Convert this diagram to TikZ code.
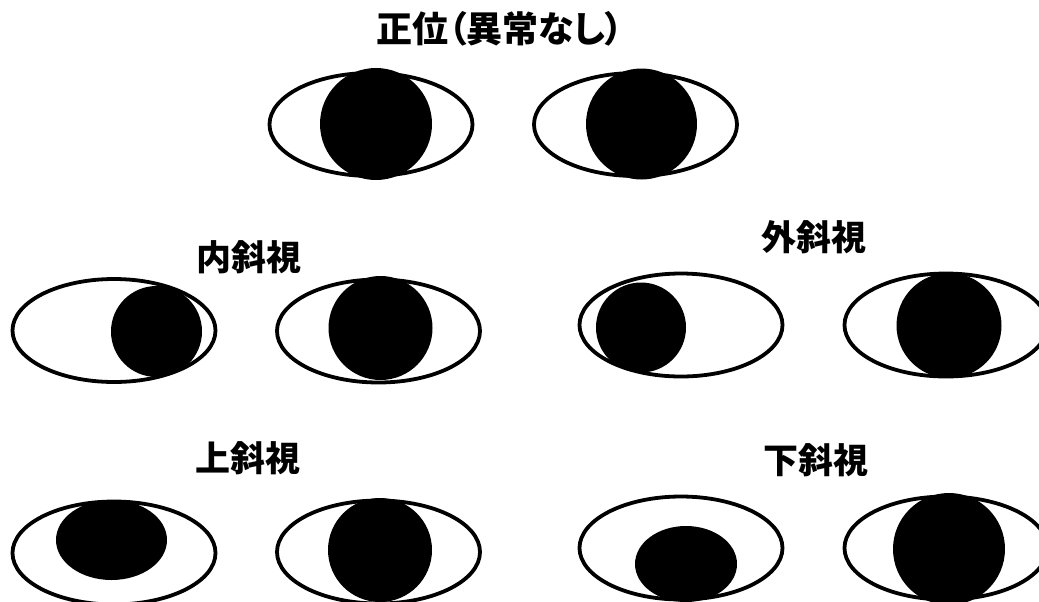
\documentclass[tikz,border=0pt]{standalone}
\usepackage{fontspec}
\newfontfamily\jpfont{Noto Sans CJK JP}[BoldFont={Noto Sans CJK JP Black}]
\newfontfamily\jppfont{Noto Sans CJK JP Black}[RawFeature=+palt]

\tikzset{
  eyeball/.style={draw=black, fill=white, line width=1.9pt},
  iris/.style={fill=black},
  heading/.style={font=\jpfont\bfseries\fontsize{17.5}{20}\selectfont, inner sep=0pt}
}

\begin{document}
\begin{tikzpicture}[x=0.5pt,y=-0.5pt]
  \useasboundingbox (0,0) rectangle (1039,601);

  % headings
  \node[heading, font=\jppfont\fontsize{18}{20}\selectfont] (normal) at (500,29) {正位（異常なし）};
  \node[heading] (eso)    at (249,257) {内斜視};
  \node[heading] (exo)    at (814,237) {外斜視};
  \node[heading] (hyper)  at (248,458) {上斜視};
  \node[heading] (hypo)   at (816,460) {下斜視};

  % normal position
  \draw[eyeball] (371,124.5) ellipse (101.5 and 51.5);
  \fill[iris] (376,124) circle (56);
  \draw[eyeball] (635.5,124.5) ellipse (101.5 and 51.5);
  \fill[iris] (641.5,124) circle (55.5);

  % esotropia
  \draw[eyeball] (114,330.5) ellipse (101.5 and 51.5);
  \fill[iris] (156.5,331.5) circle (45.5);
  \draw[eyeball] (378.5,331) ellipse (101.5 and 51.5);
  \fill[iris] (380.5,328) circle (52);

  % exotropia
  \draw[eyeball] (681,325) ellipse (101.5 and 51.5);
  \fill[iris] (641,327.5) circle (45);
  \draw[eyeball] (946,325) ellipse (101.5 and 51.5);
  \fill[iris] (949,325.5) circle (52.5);

  % hypertropia
  \draw[eyeball] (114,553) ellipse (101.5 and 51.5);
  \fill[iris] (111.5,540) ellipse (55.5 and 40);
  \draw[eyeball] (378.5,552) ellipse (101.5 and 51.5);
  \fill[iris] (380,550) circle (52);

  % hypotropia
  \draw[eyeball] (681,548) ellipse (101.5 and 51.5);
  \fill[iris] (686,564) ellipse (51 and 38);
  \draw[eyeball] (946,548) ellipse (101.5 and 51.5);
  \fill[iris] (949,549) circle (56);
\end{tikzpicture}
\end{document}
